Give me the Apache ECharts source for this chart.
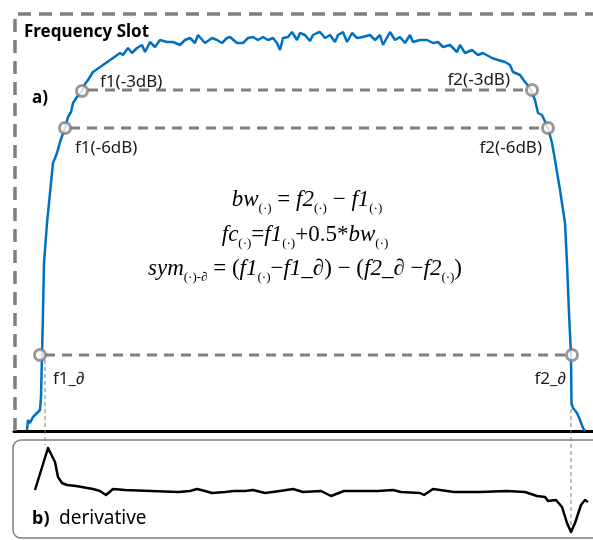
<!DOCTYPE html>
<html>
<head>
<meta charset="utf-8">
<script src="https://cdn.jsdelivr.net/npm/echarts@6/dist/echarts.min.js"></script>
<style>
  html, body { margin: 0; padding: 0; background: #fff; }
  #chart { width: 593px; height: 540px; }
</style>
</head>
<body>
<div id="chart"></div>
<script>
// spectrum (a): frequency position and relative power level
var spectrumX = [27, 28, 30, 33, 37, 40, 41, 42, 43, 44, 47, 50, 53, 57, 60, 65, 68, 71, 73, 77,
  82, 85, 88, 93, 103, 113, 120, 123, 128, 132, 137, 142, 145, 150, 155, 160, 167, 173, 180, 185,
  190, 195, 198, 205, 212, 217, 222, 227, 230, 237, 243, 248, 253, 258, 263, 268, 273, 277, 280, 283,
  288, 292, 297, 300, 305, 310, 313, 317, 320, 325, 330, 335, 338, 343, 347, 352, 357, 363, 370, 375,
  380, 383, 390, 395, 400, 405, 410, 413, 420, 427, 433, 438, 443, 450, 457, 460, 465, 472, 478, 483,
  492, 498, 505, 510, 513, 520, 525, 530, 532, 535, 538, 542,
  548, 552, 555, 560, 565, 567, 569, 571, 571.5, 573, 577, 580, 583, 585];
var spectrumLevel = [1, 11, 8, 14, 18, 21, 34, 76, 118, 168, 208, 238, 268, 278, 289, 303, 314, 319, 328, 334,
  340, 347, 351, 359, 366, 373, 378, 376, 383, 378, 383, 386, 379, 389, 384, 391, 389, 389, 386, 391,
  393, 388, 396, 388, 393, 391, 388, 393, 394, 388, 388, 393, 394, 391, 394, 391, 393, 388, 381, 393,
  394, 399, 391, 398, 396, 390, 396, 398, 399, 393, 396, 389, 396, 399, 389, 398, 393, 394, 396, 391,
  396, 386, 399, 391, 394, 388, 396, 389, 391, 391, 388, 389, 384, 386, 379, 386, 378, 381, 376, 378,
  373, 371, 369, 366, 359, 356, 349, 343, 341, 331, 318, 316,
  303, 288, 271, 241, 208, 168, 118, 76, 28, 23, 18, 11, 3, 0];

// characteristic points
var markerNames = ['f1(-3dB)', 'f1(-6dB)', 'f1_∂', 'f2(-3dB)', 'f2(-6dB)', 'f2_∂'];
var markerX = [82, 65, 40, 532, 548, 572];
var markerLevel = [340, 303, 76, 341, 303, 76];

// reference levels (dashed) : start, end, level
var refStart = [88, 70, 45];
var refEnd = [527, 543, 567];
var refLevel = [341, 303, 76];

// derivative (b)
var derivX = [35, 48, 55, 58, 62, 67, 76, 93, 100, 106, 113, 125, 151, 178, 190, 197, 205, 212, 225, 234, 245, 253,
  265, 280, 293, 303, 321, 331, 344, 360, 378, 393, 401, 420, 424, 433, 454, 480, 507, 525, 537, 545,
  548, 556, 562, 567, 571, 575, 581, 585, 588];
var derivValue = [0, 42, 28, 13, 7, 5, 4, 1, -1, -5, 1, 0, -1, -2, -1, 1, -1, -3, -2, -1, -1, 0,
  -3, -1, 1, -2, -1, -6, -1, -1, -1, 0, -2, -3, -5, 1, -2, -2, -1, -2, -6, -7,
  -11, -10, -17, -33, -42, -33, -15, -10, -12];

var GRAY = '#7f7f7f';
var BLUE = '#0070c0';
var SANS = '"Noto Sans", sans-serif';
var SERIF = '"Liberation Serif", "Times New Roman", serif';

function zip(xs, ys) {
  var out = [];
  for (var i = 0; i < xs.length; i++) out.push([xs[i], ys[i]]);
  return out;
}

var series = [];

// dashed reference lines
for (var i = 0; i < refLevel.length; i++) {
  series.push({
    type: 'line', xAxisIndex: 0, yAxisIndex: 0, symbol: 'none', silent: true,
    data: [[refStart[i], refLevel[i]], [refEnd[i], refLevel[i]]],
    lineStyle: { color: GRAY, width: 3, type: [10, 7] }
  });
}

// thin dashed drop lines from f1_∂ / f2_∂ into panel b
series.push({
  type: 'line', xAxisIndex: 0, yAxisIndex: 0, symbol: 'none', clip: false, silent: true,
  data: [[45, 71], [45, -14]],
  lineStyle: { color: GRAY, width: 1, type: [4, 3] }
});
series.push({
  type: 'line', xAxisIndex: 0, yAxisIndex: 0, symbol: 'none', clip: false, silent: true,
  data: [[571, 71], [571, -99]],
  lineStyle: { color: GRAY, width: 1, type: [4, 3] }
});

// spectrum
series.push({
  type: 'line', xAxisIndex: 0, yAxisIndex: 0, symbol: 'none', clip: false,
  data: zip(spectrumX, spectrumLevel),
  lineStyle: { color: BLUE, width: 2.5 }, z: 3
});

// circles
series.push({
  type: 'scatter', xAxisIndex: 0, yAxisIndex: 0, symbol: 'circle', symbolSize: 11,
  data: zip(markerX, markerLevel),
  itemStyle: { color: '#fff', borderColor: GRAY, borderWidth: 3 }, z: 5
});

// derivative
series.push({
  type: 'line', xAxisIndex: 1, yAxisIndex: 1, symbol: 'none',
  data: zip(derivX, derivValue),
  lineStyle: { color: '#000', width: 2.5, join: 'round' }
});

var sub = { fontFamily: SERIF, fontSize: 13, fill: '#000', verticalAlign: 'bottom', lineHeight: 13 };
var ital = { fontFamily: SERIF, fontSize: 23, fontStyle: 'italic', fill: '#000', lineHeight: 31 };
var norm = { fontFamily: SERIF, fontSize: 23, fill: '#000', lineHeight: 31 };
var richEq = { i: ital, n: norm, s: sub };

function label(text, x, y, align, extra) {
  var st = { text: text, x: x, y: y, align: align, verticalAlign: 'middle',
    fontFamily: SANS, fontSize: 17, fill: '#1a1a1a' };
  if (extra) for (var k in extra) st[k] = extra[k];
  return { type: 'text', z: 10, style: st };
}

var labelRich = {
  n: { fontFamily: SANS, fontSize: 17, fill: '#1a1a1a' },
  i: { fontFamily: SANS, fontSize: 17, fontStyle: 'italic', fill: '#1a1a1a' }
};

var chart = echarts.init(document.getElementById('chart'), null, { renderer: 'canvas' });
chart.setOption({
  animation: false,
  backgroundColor: '#fff',
  grid: [
    { left: 14, top: 31, width: 579, height: 400 },
    { left: 14, top: 440, width: 579, height: 100 }
  ],
  xAxis: [
    { gridIndex: 0, type: 'value', min: 14, max: 593, splitLine: { show: false },
      axisTick: { show: false }, axisLabel: { show: false },
      axisLine: { show: true, lineStyle: { color: '#000', width: 3 } } },
    { gridIndex: 1, type: 'value', min: 14, max: 593, show: false }
  ],
  yAxis: [
    { gridIndex: 0, type: 'value', min: 0, max: 400, show: false },
    { gridIndex: 1, type: 'value', min: -50, max: 50, show: false }
  ],
  series: series,
  graphic: [
    // frequency slot box
    { type: 'polyline', z: 1, shape: { points: [[15, 431], [15, 14], [600, 14]] },
      style: { stroke: GRAY, lineWidth: 3.5, fill: null, lineDash: [13, 8] } },
    // derivative panel
    { type: 'rect', z: 1, shape: { x: 13, y: 440, width: 640, height: 98, r: 8 },
      style: { stroke: GRAY, lineWidth: 1.5, fill: null } },
    label('Frequency Slot', 24, 32, 'left', { fontWeight: 'bold', fontSize: 17, fill: '#000' }),
    label('a)', 32, 98, 'left', { fontWeight: 'bold', fontSize: 17, fill: '#000' }),
    label('f1(-3dB)', 100, 82, 'left'),
    label('f1(-6dB)', 75, 148, 'left'),
    label('f2(-3dB)', 510, 80, 'right'),
    label('f2(-6dB)', 542, 148, 'right'),
    label('{n|f1_}{i|∂}', 53, 379, 'left', { rich: labelRich }),
    label('{n|f2_}{i|∂}', 566, 379, 'right', { rich: labelRich }),
    label('b)', 32, 519, 'left', { fontWeight: 'bold', fontSize: 18, fill: '#000' }),
    label('derivative', 59, 519, 'left', { fontSize: 19, fill: '#000' }),
    { type: 'text', z: 10, style: { x: 307, y: 200, align: 'center', verticalAlign: 'middle', rich: richEq,
      text: '{i|bw}{s|(·)}{n| = }{i|f2}{s|(·)}{n| − }{i|f1}{s|(·)}' } },
    { type: 'text', z: 10, style: { x: 305, y: 235, align: 'center', verticalAlign: 'middle', rich: richEq,
      text: '{i|fc}{s|(·)}{n|=}{i|f1}{s|(·)}{n|+0.5*}{i|bw}{s|(·)}' } },
    { type: 'text', z: 10, style: { x: 305, y: 269, align: 'center', verticalAlign: 'middle', rich: richEq,
      text: '{i|sym}{s|(·)-∂}{n| = (}{i|f1}{s|(·)}{n|−}{i|f1_∂}{n|) − (}{i|f2_∂}{n| −}{i|f2}{s|(·)}{n|)}' } }
  ]
});
</script>
</body>
</html>
